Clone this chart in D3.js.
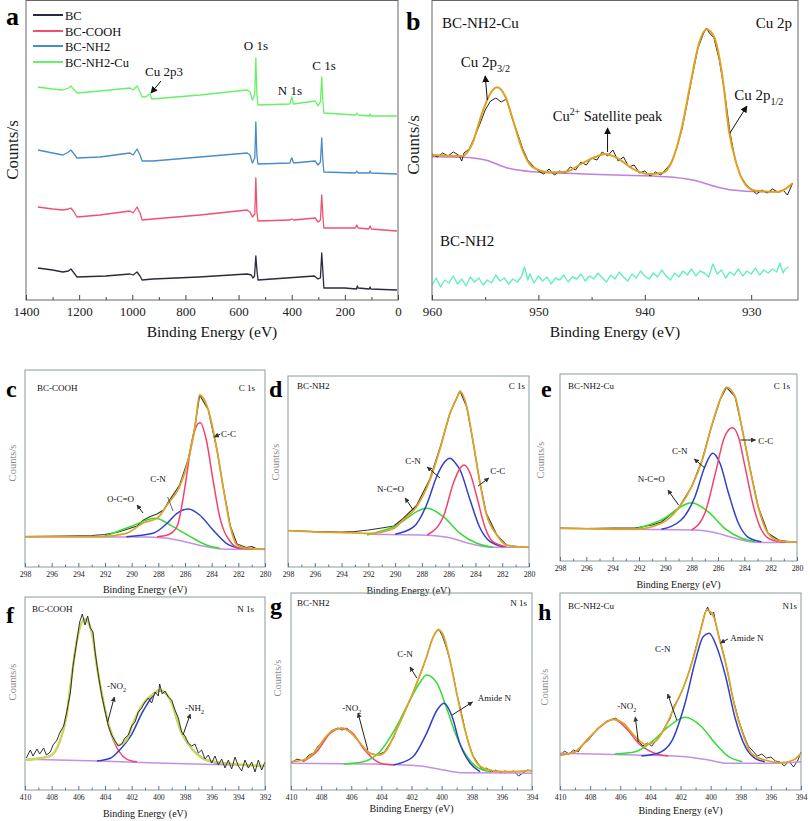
<!DOCTYPE html>
<html><head><meta charset="utf-8">
<script src="https://cdn.jsdelivr.net/npm/d3@7"></script>
<style>html,body{margin:0;padding:0;background:#fff;} svg text{font-family:"Liberation Serif","DejaVu Serif",serif;}</style>
</head><body>
<script>
// ===================== DATA =====================
// Panel a: XPS survey spectra  [binding energy (eV), intensity (a.u.)]
const surveyLegend = ["BC", "BC-COOH", "BC-NH2", "BC-NH2-Cu"];
const surveyBC = [[1355,32],[1300,30],[1261,28],[1240,29],[1231,31],[1222,28],[1208,23],[1100,24],[1009,26],[997,25],[982,28],[971,24],[963,20],[922,21],[750,23],[568,26],[552,25],[546,22],[540,24],[535,44],[531,30],[527,20],[420,22],[315,24],[301,21],[292,22],[287,47],[283,30],[279,12],[200,12],[156,11],[153,14],[150,12],[108,11],[105,13],[102,11],[4,10]];
const surveyCOOH = [[1355,93],[1300,91],[1261,90],[1240,91],[1231,92],[1222,89],[1208,83],[1122,85],[1009,89],[997,87],[982,93],[971,87],[963,80],[922,81],[745,85],[568,90],[557,88],[548,83],[539,86],[535,122],[531,88],[527,79],[407,80],[400,81],[392,80],[312,82],[301,78],[292,80],[287,105],[283,85],[279,72],[160,72],[155,75],[150,72],[110,71],[105,74],[100,71],[4,69]];
const surveyNH2 = [[1355,150],[1300,147],[1261,145],[1240,148],[1231,150],[1222,147],[1208,142],[1122,143],[1009,147],[997,145],[982,151],[971,145],[963,139],[922,139],[745,143],[568,147],[557,145],[548,137],[539,142],[535,178],[531,145],[527,136],[407,137],[402,141],[399,142],[395,138],[392,137],[312,139],[301,135],[292,138],[287,162],[283,140],[279,128],[160,127],[155,129],[150,127],[108,127],[105,129],[102,127],[4,126]];
const surveyNH2Cu = [[1355,213],[1300,211],[1261,210],[1240,212],[1231,214],[1222,211],[1208,207],[1122,209],[1009,212],[997,210],[982,214],[971,208],[963,203],[950,203],[940,205],[933,206],[927,201],[745,205],[568,210],[557,208],[548,200],[539,206],[535,242],[531,205],[527,195],[407,196],[402,201],[399,203],[395,197],[392,196],[312,199],[301,194],[292,198],[287,223],[283,200],[279,187],[160,185],[155,187],[150,185],[108,184],[105,186],[102,184],[4,184]];
const surveyTicks = [1400,1200,1000,800,600,400,200,0];
const surveyMinor = [1300,1100,900,700,500,300,100];

// Panel b: Cu 2p
const cu2pFit = [[960,145],[957.15,144],[956.2,156.7],[955.3,186.7],[954.5,206.7],[953.9,212.7],[953.1,203.3],[952.3,176.7],[951.5,150],[950.6,133.3],[949,127.7],[947.4,128.3],[945.9,136.7],[944.6,143.3],[943.7,146],[942.4,140.7],[941.2,131.7],[939.6,126],[938.3,127.3],[937.4,140],[936.5,173.3],[935.7,216.7],[934.9,256.7],[934.2,270.7],[933.5,263.3],[932.7,223.3],[932.1,170],[931.4,136.7],[930.5,115],[929.6,109.3],[927.4,108.3],[926.7,111.7],[926.1,116.7]];
const cu2pBase = [[960,143.3],[957.15,142.7],[955,140],[952.8,131.7],[950.6,128.3],[947.4,126.7],[942.7,125],[938,123.3],[935.5,120],[933.3,113.3],[931.8,110],[929.2,108.3],[927.2,108.3]];
const cu2pRaw = [[960,146],[959.5,143],[959,147],[958.5,144],[958,148],[957.5,145],[957.2,139],[957,147],[956.5,151],[956,163],[955.5,176],[955,190],[954.5,199],[954,202],[953.5,198],[953,201],[952.5,183],[952,168],[951.5,152],[951,140],[950.5,134],[950,129],[949.5,126],[949,131],[948.5,125],[948,129],[947.5,127],[947,133],[946.5,130],[946,138],[945.5,135],[945,142],[944.5,140],[944,148],[943.5,144],[943,150],[942.5,139],[942,143],[941.5,133],[941,135],[940.5,127],[940,129],[939.5,124],[939,128],[938.5,125],[938,131],[937.5,137],[937,152],[936.5,171],[936,198],[935.5,226],[935,252],[934.5,266],[934.2,272],[934,268],[933.5,262],[933,240],[932.5,208],[932,168],[931.5,140],[931,124],[930.5,116],[930,111],[929.5,106],[929,110],[928.5,107],[928,111],[927.5,108],[927,110],[926.6,105],[926.3,112],[926.1,117]];
const nh2Cu2p = [[960,15],[959.6,22],[959.2,13],[958.8,20],[958.4,17],[958,24],[957.6,16],[957.2,21],[956.8,14],[956.4,23],[956,18],[955.6,22],[955.2,15],[954.8,20],[954.4,17],[954,25],[953.6,19],[953.2,22],[952.8,16],[952.4,21],[952,18],[951.6,23],[951.3,33],[951,20],[950.8,26],[950.4,17],[950,24],[949.6,19],[949.2,23],[948.8,16],[948.4,22],[948,20],[947.6,25],[947.2,18],[946.8,23],[946.4,21],[946,26],[945.6,19],[945.2,24],[944.8,21],[944.4,27],[944,22],[943.6,18],[943.2,25],[942.8,21],[942.4,28],[942,23],[941.6,19],[941.2,26],[940.8,22],[940.4,29],[940,24],[939.6,21],[939.2,27],[938.8,23],[938.4,30],[938,24],[937.6,20],[937.2,27],[936.8,23],[936.4,29],[936,25],[935.6,31],[935.2,24],[934.8,29],[934.4,27],[934,23],[933.6,36],[933.2,26],[932.8,30],[932.4,22],[932,28],[931.6,25],[931.2,31],[930.8,24],[930.4,29],[930,26],[929.6,32],[929.2,25],[928.8,30],[928.4,27],[928,31],[927.6,28],[927.3,37],[927,27],[926.8,31],[926.5,33]];
const cu2pTicks = [960,950,940,930];
const cu2pMinor = [955,945,935];

// Panels c-e: C 1s
const c1sTicks = [298,296,294,292,290,288,286,284,282,280];
const c1sMinor = [297,295,293,291,289,287,285,283,281];
const cEnv = [[298,30.3],[295,30.3],[292.4,30.3],[290.4,33.7],[289.1,44.3],[288.1,48.7],[287.25,63.7],[286.4,80.3],[285.75,107],[285.25,140.3],[284.9,172],[284.25,157],[283.6,117],[283.1,77],[282.6,40.3],[282.1,22],[281.4,18.7],[280,17.7]];
const cCC = [[288.1,30.3],[287.3,32],[286.6,40.3],[286.25,60.3],[286.0,80.3],[285.5,123.7],[285.0,143.7],[284.85,144.3],[284.4,127],[283.9,87],[283.4,50.3],[282.6,25.3],[281.9,18.7],[280.9,17.7]];
const cCN = [[290.4,30.3],[288.4,33.7],[287.4,43],[286.6,53.7],[285.75,58],[284.9,52],[283.9,37],[282.9,23.7],[281.9,18.7]];
const cOCO = [[292.1,30.3],[290.1,40.3],[288.25,48.7],[286.9,40.3],[285.6,30.3],[284.4,22],[283.4,18.7]];
const cBase = [[298,30],[289.1,30],[287.5,29],[286,25.3],[284.4,20.3],[283,17.7],[280,17.7]];
const cRaw = [[298,30.3],[295,30.8],[293,31.5],[292,32.5],[291,35],[290.4,37.5],[289.6,41],[289.1,47],[288.6,50.5],[288.1,53],[287.6,57],[287.25,65],[286.9,72],[286.4,82],[285.75,108],[285.25,141],[284.9,172],[284.25,157],[283.6,117],[283.1,77],[282.6,41],[282.1,23],[281.4,19.5],[281,20.5],[280.6,18],[280,18]];

const dEnv = [[298,36.3],[296,35],[294,34.5],[291.9,33.7],[290.1,38.7],[289.4,47],[288.4,60.3],[287.4,87],[286.6,120.3],[285.9,153.7],[285.4,168.7],[285.15,175.3],[284.65,160.3],[284.2,127],[283.7,87],[283.2,53.7],[282.4,32],[281.7,22],[280.9,20.3],[280,19.7]];
const dCN = [[290,32.7],[288.6,40.3],[287.6,63.7],[286.9,90.3],[286.3,105],[285.9,108.7],[285.5,104],[285.15,97],[284.4,67],[283.7,40.3],[282.9,25.3],[281.9,20.3]];
const dCC = [[287.6,32],[286.4,50.3],[285.65,83.7],[285.15,98.7],[284.85,102],[284.4,93.7],[283.9,70.3],[283.3,40.3],[282.7,25.3],[281.7,20.3]];
const dNCO = [[292.1,32],[290.1,40.3],[287.6,58.7],[286.4,50.3],[285.15,33.7],[283.9,23.7],[282.7,19.7]];
const dBase = [[292.1,32.7],[288.1,32],[286.1,29.7],[284.65,24.3],[283.2,20.3],[281.9,19.7],[280,19.7]];
const dRaw = [[298,36.5],[296,35.3],[294,35],[293,35.5],[292,37],[291,39],[290.1,41],[289.4,48.5],[288.4,61.5],[287.4,88],[286.6,121],[285.9,154],[285.4,169],[285.15,176],[284.65,160],[284.2,127],[283.7,87],[283.2,54],[282.4,32],[281.7,22],[280.9,20.5],[280,19.5]];

const eEnv = [[298,32.7],[295,32],[292.3,31.7],[290.3,37.7],[289,52.7],[288,74.3],[287.2,101],[286.5,134.3],[285.85,161],[285.35,173.7],[284.7,164.3],[284.2,134.3],[283.6,94.3],[282.95,54.3],[282.2,27.7],[281.4,20.3],[280,18.7]];
const eCC = [[288,31],[287,47.7],[286.2,87.7],[285.5,124.3],[284.9,133.3],[284.45,124.3],[283.95,94.3],[283.3,54.3],[282.7,31],[281.9,21],[280.9,18.7]];
const eCN = [[290.3,31.7],[288.8,41],[287.75,64.3],[287,94.3],[286.4,107.7],[285.85,97.7],[285.2,67.7],[284.45,37.7],[283.7,23.7],[282.7,19.3]];
const eNCO = [[292.3,31.7],[290.3,41],[288,58.3],[286.75,49.3],[285.5,32.7],[284.2,22.7],[283.2,19.3]];
const eBase = [[292.3,31.7],[287.8,31],[286.2,28.3],[284.7,22.7],[283.2,18.7],[281.7,18.5],[280,18.7]];
const eRaw = [[298,33],[296,32.5],[294,32.8],[292.3,33],[291,36],[290.3,39],[289,53],[288,74.3],[287.2,101],[286.5,134.3],[285.85,161],[285.35,173.7],[284.7,164.3],[284.2,134.3],[283.6,94.3],[282.95,54.3],[282.2,27.7],[281.4,21],[280.7,19.5],[280,18.7]];

// Panels f-h: N 1s
const n1sTicksF = [410,408,406,404,402,400,398,396,394,392];
const n1sMinorF = [409,407,405,403,401,399,397,395,393];
const n1sTicksGH = [410,408,406,404,402,400,398,396,394];
const n1sMinorGH = [409,407,405,403,401,399,397,395];

const fEnv = [[409.9,30],[408.8,32],[408.1,34],[407.4,48.3],[406.9,73.3],[406.5,113.3],[406.1,150],[405.5,170.7],[405,158.3],[404.6,123.3],[404.1,86.7],[403.6,60],[403,45],[402.4,50],[401.9,66.7],[401.1,86.7],[400.3,97],[399.9,100],[399.1,90],[398.25,56.7],[397.4,40],[396.4,30],[394.4,26],[392,24]];
const fNO2 = [[409.9,30],[408.8,32],[408.1,34],[407.4,48.3],[406.9,73.3],[406.5,113.3],[406.1,150],[405.5,170.7],[405,158.3],[404.6,123.3],[404.1,86.7],[403.6,58],[403.1,42],[402.6,33],[402,29],[401.6,28.3]];
const fNH2 = [[404.6,29],[403.6,31.7],[402.9,40],[402.1,53.3],[401.1,80],[399.9,99.3],[399.1,90],[398.25,56.7],[397.4,40],[396.4,30],[395.4,26.7]];
const fBase = [[409.9,30.7],[404.4,29],[399.4,26.7],[394.4,25],[392,24.3]];
const fRaw = [[409.9,32],[409.6,40],[409.4,34],[409.1,41],[408.9,36],[408.6,42],[408.4,35],[408.1,38],[407.9,45],[407.6,50],[407.4,57],[407.1,64],[406.9,76],[406.6,97],[406.4,124],[406.1,150],[405.9,168],[405.7,176],[405.5,165],[405.3,174],[405.1,162],[404.9,158],[404.75,139],[404.5,115],[404.25,95],[404,79],[403.75,64],[403.5,55],[403.25,49],[403,44],[402.75,46],[402.5,52],[402.25,55],[402,64],[401.75,68],[401.5,78],[401.25,82],[401,88],[400.75,92],[400.5,87],[400.25,98],[400,94],[399.9,106],[399.7,96],[399.5,99],[399.25,93],[399,90],[398.75,80],[398.5,72],[398.25,58],[398,54],[397.75,47],[397.5,44],[397.25,46],[397,37],[396.75,40],[396.5,31],[396.25,35],[396,27],[395.75,34],[395.5,25],[395.25,31],[395,22],[394.75,30],[394.5,21],[394.25,33],[394,24],[393.75,19],[393.5,30],[393.25,22],[393,28],[392.75,18],[392.5,30],[392.25,20],[392,28]];

const gEnv = [[410,28.3],[409.2,30],[408.5,36.7],[407.85,50],[407.2,60],[406.6,61.7],[406.1,58.3],[405.4,46.7],[404.75,36.7],[404.1,35],[403.65,40],[403,60],[402.3,83.3],[401.65,106.7],[401,133.3],[400.55,153.3],[400.2,160],[399.9,155],[399.45,130],[399,96.7],[398.45,60],[397.9,33.3],[397.2,21.7],[395.9,18.3],[394,19.3]];
const gNO2 = [[409.2,28.3],[408.3,38.3],[407.4,56.7],[406.6,61.7],[405.9,56.7],[405.2,41.7],[404.5,30.7],[403.9,26],[403.2,25]];
const gCN = [[406.5,26],[405.2,28.3],[404.1,38.3],[403,63.3],[402.1,90],[401.4,108.3],[401,115],[400.3,106.7],[399.7,83.3],[399,53.3],[398.3,33.3],[397.7,23.3],[396.8,18.3]];
const gAmide = [[403.2,25],[401.9,33.3],[401,56.7],[400.3,80],[399.85,86.7],[399.3,73.3],[398.8,46.7],[398.1,26.7],[397.45,18.3]];
const gBase = [[410,26.7],[404.75,26],[401.4,24],[399.9,20],[398.6,17.3],[394,16.7]];
const gRaw = [[410,27],[409.6,31],[409.2,29],[408.8,35],[408.5,37],[408.2,44],[407.85,49],[407.5,56],[407.2,60],[406.9,62],[406.6,60],[406.3,62],[406,57],[405.7,52],[405.4,47],[405.1,41],[404.75,37],[404.4,35],[404.1,36],[403.8,38],[403.5,45],[403.2,52],[403,60],[402.6,73],[402.3,83],[402,93],[401.65,107],[401.3,120],[401,133],[400.7,148],[400.4,158],[400.2,161],[399.95,154],[399.7,143],[399.45,130],[399.2,113],[399,97],[398.7,78],[398.45,61],[398.2,46],[397.9,34],[397.6,27],[397.3,20],[397,22],[396.7,18],[396.4,20],[396.1,17],[395.8,19],[395.5,18],[395.2,19],[394.9,14],[394.6,17],[394.3,20],[394,19]];

const hEnv = [[410,35],[409,38.3],[408.1,51.7],[407.2,65],[406.45,70.7],[405.8,66.7],[405,53.3],[404.35,45.7],[403.7,48.3],[403,63.3],[402.4,83.3],[401.7,106.7],[401,140],[400.6,163.3],[400.25,180],[399.8,173.3],[399.4,150],[398.9,120],[398.4,83.3],[397.8,53.3],[397.3,36.7],[396.4,30],[395.3,27.3],[394.5,30],[394,36.7]];
const hNO2 = [[410,35],[409,38.3],[408.1,51.7],[407.2,65],[406.45,70.7],[405.5,60],[404.8,46.7],[404.1,39.3],[403.5,35.7],[402.8,34]];
const hCN = [[406.35,36],[405,38.3],[403.9,48.3],[402.8,63.3],[401.7,72.7],[400.6,63.3],[399.7,46.7],[398.8,33.3],[397.9,28.3]];
const hAmide = [[404.6,34],[403.5,36.7],[402.6,48.3],[401.7,86.7],[401,130],[400.5,153.3],[400.1,156.7],[399.6,143.3],[399,113.3],[398.4,73.3],[397.7,43.3],[397.05,31.7],[396.4,28.3]];
const hBase = [[410,36.7],[405,35],[401.7,33.3],[400.15,30],[398.8,26.7],[396.1,26.7],[394,28.3]];
const hRaw = [[410,34],[409.7,39],[409.4,36],[409.1,40],[408.8,38],[408.5,45],[408.1,50],[407.8,56],[407.5,62],[407.2,64],[406.9,69],[406.6,70],[406.3,72],[406,67],[405.7,66],[405.4,59],[405.1,55],[404.8,49],[404.5,44],[404.2,47],[403.9,44],[403.6,50],[403.3,56],[403,64],[402.7,71],[402.4,85],[402.1,92],[401.8,103],[401.5,115],[401.2,130],[400.9,147],[400.6,164],[400.4,176],[400.2,183],[400,175],[399.8,178],[399.6,162],[399.4,151],[399.1,134],[398.9,120],[398.6,97],[398.4,85],[398.1,68],[397.8,55],[397.5,44],[397.2,39],[396.9,34],[396.6,36],[396.3,32],[396,33],[395.7,29],[395.4,28],[395.1,24],[394.8,29],[394.5,23],[394.2,30],[394,38]];

// ===================== DRAWING =====================
const FONT = "Liberation Serif, DejaVu Serif, serif";
const COL = {env:"#dba52a", red:"#f5426c", blue:"#3040c8", green:"#33dd33", base:"#c490e4", raw:"#333333", fenv:"#c9d75a", teal:"#66eebb"};

const svg = d3.select("body").append("svg").attr("width",810).attr("height",821)
  .style("display","block").style("background","#fff");

const defs = svg.append("defs");
function marker(id, size, color){
  defs.append("marker").attr("id",id).attr("viewBox","0 0 10 10").attr("refX",9).attr("refY",5)
    .attr("markerWidth",size).attr("markerHeight",size).attr("markerUnits","userSpaceOnUse")
    .attr("orient","auto").append("path").attr("d","M0,0 L10,5 L0,10 z").attr("fill",color);
}
marker("ahBig", 7, "#111");
marker("ahSmall", 5, "#333");

function addText(g, x, y, parts, size, opts){
  opts = opts || {};
  const t = g.append("text").attr("x",x).attr("y",y).style("font-family",FONT)
    .attr("font-size",size).attr("fill",opts.fill||"#111").attr("text-anchor",opts.anchor||"start");
  if (opts.weight) t.attr("font-weight",opts.weight);
  if (opts.rotate) t.attr("transform",`rotate(${opts.rotate},${x},${y})`);
  if (typeof parts === "string") { t.text(parts); return t; }
  let shift = 0;
  parts.forEach(p => {
    const s = p[0], kind = p[1];
    const target = kind==="sub" ? size*0.3 : kind==="sup" ? -size*0.42 : 0;
    const ts = t.append("tspan").text(s).attr("dy", target-shift);
    shift = target;
    if (kind) ts.attr("font-size", size*0.68);
  });
  return t;
}

function drawPanel(p){
  const g = svg.append("g");
  const H = p.b - p.t;
  const x = d3.scaleLinear().domain(p.xDomain).range([p.l, p.r]);
  const y = d3.scaleLinear().domain([0, H]).range([p.b, p.t]);

  p.series.forEach(s => {
    const line = d3.line().x(d=>x(d[0])).y(d=>y(d[1])).curve(s.curve || d3.curveLinear);
    g.append("path").datum(s.data).attr("d",line).attr("fill","none")
      .attr("stroke",s.color).attr("stroke-width",s.width||1.2).attr("stroke-linejoin","round");
  });

  g.append("rect").attr("x",p.l).attr("y",p.t).attr("width",p.r-p.l).attr("height",H)
    .attr("fill","none").attr("stroke",p.frame).attr("stroke-width",p.frameW||1);

  const ax = g.append("g").attr("transform",`translate(0,${p.b})`)
    .call(d3.axisBottom(x).tickValues(p.ticks).tickSize(-p.tickLen).tickPadding(p.pad).tickFormat(d3.format("d")));
  ax.select(".domain").remove();
  ax.attr("font-family", null);
  ax.selectAll("line").attr("stroke",p.tickColor);
  ax.selectAll("text").style("font-family",FONT).attr("font-size",p.tickFont).attr("fill","#222");
  const mx = g.append("g").attr("transform",`translate(0,${p.b})`)
    .call(d3.axisBottom(x).tickValues(p.minor).tickSize(-p.tickLen*0.6).tickFormat(""));
  mx.select(".domain").remove();
  mx.selectAll("line").attr("stroke",p.tickColor);

  addText(g, (p.l+p.r)/2, p.xlabY, "Binding Energy (eV)", p.xlabSize, {anchor:"middle"});
  addText(g, p.ylabX, p.ylabY, "Counts/s", p.ylabSize, {anchor:"middle", rotate:-90, fill:p.ylabColor});
  addText(g, p.letter[1], p.letter[2], p.letter[0], p.letterSize, {weight:"bold", fill:"#000"});
  (p.labels||[]).forEach(L => addText(g, L.x, L.y, L.t, L.size, {anchor:L.anchor}));
  (p.notes||[]).forEach(n => addText(g, x(n.at[0]), y(n.at[1]), n.t, n.size, {anchor:n.anchor||"start"}));
  (p.arrows||[]).forEach(a => {
    const ln = g.append("line").attr("x1",x(a.from[0])).attr("y1",y(a.from[1]))
      .attr("x2",x(a.to[0])).attr("y2",y(a.to[1])).attr("stroke",a.color||"#222").attr("stroke-width",a.w||1);
    if (a.head !== false) ln.attr("marker-end",`url(#${a.marker||"ahSmall"})`);
  });
  return {x, y, g};
}

const smooth = d3.curveMonotoneX;

// ---- Panel a
const pa = drawPanel({
  l:26, r:398, t:0.5, b:300, xDomain:[1400,0],
  ticks:surveyTicks, minor:surveyMinor, tickLen:5, pad:7, tickFont:13, tickColor:"#444",
  frame:"#666", xlabY:337, xlabSize:15.5, ylabX:18, ylabY:150, ylabSize:17, ylabColor:"#222",
  letter:["a",6,25], letterSize:26,
  series:[
    {data:surveyBC, color:"#2a2a40", width:1.3},
    {data:surveyCOOH, color:"#f2506e", width:1.3},
    {data:surveyNH2, color:"#4a8cc7", width:1.3},
    {data:surveyNH2Cu, color:"#66f266", width:1.3}
  ],
  notes:[
    {t:"O 1s", at:[534.5,250], size:13, anchor:"middle"},
    {t:"C 1s", at:[278.6,230], size:13, anchor:"middle"},
    {t:"N 1s", at:[406.6,205], size:13, anchor:"middle"},
    {t:"Cu 2p3", at:[880.7,224], size:13, anchor:"middle"}
  ],
  arrows:[{from:[892,219], to:[929.6,207], marker:"ahBig", color:"#111"}]
});
const legColors = ["#2a2a40","#f2506e","#4a8cc7","#66f266"];
const legY = [15,31,46,62];
surveyLegend.forEach((name,i) => {
  pa.g.append("line").attr("x1",33).attr("x2",63).attr("y1",legY[i]).attr("y2",legY[i])
    .attr("stroke",legColors[i]).attr("stroke-width",2);
  addText(pa.g, 65, legY[i]+4.5, name, 12.5);
});

// ---- Panel b
drawPanel({
  l:432, r:798, t:0.5, b:300, xDomain:[960,925.6],
  ticks:cu2pTicks, minor:cu2pMinor, tickLen:5, pad:7, tickFont:13, tickColor:"#444",
  frame:"#666", xlabY:337, xlabSize:15.5, ylabX:419, ylabY:145, ylabSize:17, ylabColor:"#222",
  letter:["b",406,30], letterSize:26,
  series:[
    {data:nh2Cu2p, color:COL.teal, width:1.4},
    {data:cu2pBase, color:"#c080e0", width:1.6, curve:smooth},
    {data:cu2pRaw, color:"#222", width:1},
    {data:cu2pFit, color:"#e0a020", width:2, curve:smooth}
  ],
  labels:[
    {t:"BC-NH2-Cu", x:442, y:28, size:15},
    {t:"Cu 2p", x:792, y:28, size:15, anchor:"end"},
    {t:"BC-NH2", x:440, y:246, size:15}
  ],
  notes:[
    {t:[["Cu 2p"],["3/2","sub"]], at:[957.3,233], size:15},
    {t:[["Cu"],["2+","sup"],[" Satellite peak"]], at:[943.5,179], size:14.5, anchor:"middle"},
    {t:[["Cu 2p"],["1/2","sub"]], at:[931.6,200], size:15}
  ],
  arrows:[
    {from:[954.8,200], to:[955.0,224], marker:"ahBig", color:"#111"},
    {from:[943.5,148], to:[943.5,172], marker:"ahBig", color:"#111"},
    {from:[932.0,167], to:[930.4,194], marker:"ahBig", color:"#111"}
  ]
});

function small(o){
  return Object.assign({
    tickLen:4, pad:4, tickFont:7.8, tickColor:"#5a6fa8", frame:"#8a9a9a",
    xlabSize:10, ylabSize:10.5, ylabColor:"#8a8a8a", letterSize:24
  }, o);
}

// ---- Panel c
drawPanel(small({
  l:25, r:265, t:370, b:567, xDomain:[298,280], ticks:c1sTicks, minor:c1sMinor,
  xlabY:592.5, ylabX:16, ylabY:463, letter:["c",6,397],
  series:[
    {data:cRaw, color:COL.raw, width:1.2},
    {data:cBase, color:COL.base, width:1.5, curve:smooth},
    {data:cOCO, color:COL.green, width:1.5, curve:smooth},
    {data:cCN, color:COL.blue, width:1.5, curve:smooth},
    {data:cCC, color:COL.red, width:1.5, curve:smooth},
    {data:cEnv, color:COL.env, width:1.8, curve:smooth}
  ],
  labels:[{t:"BC-COOH", x:37, y:391, size:9},{t:"C 1s", x:255, y:391, size:9, anchor:"end"}],
  notes:[
    {t:"C-C", at:[283.3,130], size:9},
    {t:"C-N", at:[288.6,85], size:9},
    {t:"O-C=O", at:[291.85,65], size:9}
  ],
  arrows:[
    {from:[283.35,133], to:[283.8,130]},
    {from:[287.3,70], to:[286.9,56], head:false, color:"#666"},
    {from:[289.15,54], to:[289.6,62]}
  ]
}));

// ---- Panel d
drawPanel(small({
  l:288, r:529, t:376, b:567, xDomain:[298,280], ticks:c1sTicks, minor:c1sMinor,
  xlabY:593.5, ylabX:279, ylabY:462, letter:["d",269,397],
  series:[
    {data:dRaw, color:COL.raw, width:1.2},
    {data:dBase, color:COL.base, width:1.5, curve:smooth},
    {data:dNCO, color:COL.green, width:1.5, curve:smooth},
    {data:dCN, color:COL.blue, width:1.5, curve:smooth},
    {data:dCC, color:COL.red, width:1.5, curve:smooth},
    {data:dEnv, color:COL.env, width:1.8, curve:smooth}
  ],
  labels:[{t:"BC-NH2", x:297, y:389, size:9},{t:"C 1s", x:525, y:389, size:9, anchor:"end"}],
  notes:[
    {t:"C-N", at:[289.25,103], size:9},
    {t:"C-C", at:[282.9,93], size:9},
    {t:"N-C=O", at:[291.35,75], size:9}
  ],
  arrows:[
    {from:[286.65,89], to:[287.6,100]},
    {from:[283.8,81], to:[283.0,89]},
    {from:[288.65,57], to:[289.25,69]}
  ]
}));

// ---- Panel e
drawPanel(small({
  l:560, r:797, t:374, b:561, xDomain:[298,280], ticks:c1sTicks, minor:c1sMinor,
  xlabY:587.5, ylabX:544, ylabY:460, letter:["e",541,397],
  series:[
    {data:eRaw, color:COL.raw, width:1.2},
    {data:eBase, color:COL.base, width:1.5, curve:smooth},
    {data:eNCO, color:COL.green, width:1.5, curve:smooth},
    {data:eCN, color:COL.blue, width:1.5, curve:smooth},
    {data:eCC, color:COL.red, width:1.5, curve:smooth},
    {data:eEnv, color:COL.env, width:1.8, curve:smooth}
  ],
  labels:[{t:"BC-NH2-Cu", x:568, y:389, size:9},{t:"C 1s", x:790, y:389, size:9, anchor:"end"}],
  notes:[
    {t:"C-C", at:[282.95,117], size:9},
    {t:"C-N", at:[289.5,107], size:9},
    {t:"N-C=O", at:[292.1,79], size:9}
  ],
  arrows:[
    {from:[284.3,121], to:[283.15,121]},
    {from:[287.0,93], to:[287.8,102]},
    {from:[289.0,56], to:[289.8,71]}
  ]
}));

// ---- Panel f
drawPanel(small({
  l:25, r:265, t:597, b:790, xDomain:[410,392], ticks:n1sTicksF, minor:n1sMinorF,
  xlabY:816.5, ylabX:16, ylabY:682, letter:["f",6,623],
  series:[
    {data:fBase, color:COL.base, width:1.5, curve:smooth},
    {data:fNO2, color:COL.red, width:1.5, curve:smooth},
    {data:fNH2, color:COL.blue, width:1.5, curve:smooth},
    {data:fEnv, color:COL.fenv, width:2.4, curve:smooth},
    {data:fRaw, color:COL.raw, width:1}
  ],
  labels:[{t:"BC-COOH", x:32, y:612, size:9},{t:"N 1s", x:254, y:612, size:9, anchor:"end"}],
  notes:[
    {t:[["-NO"],["2","sub"]], at:[403.85,101], size:9},
    {t:[["-NH"],["2","sub"]], at:[398.0,79], size:9}
  ],
  arrows:[
    {from:[403.8,68], to:[403.3,93]},
    {from:[398.15,55], to:[397.6,76]}
  ]
}));

// ---- Panel g
drawPanel(small({
  l:291, r:532, t:593, b:790, xDomain:[410,394], ticks:n1sTicksGH, minor:n1sMinorGH,
  xlabY:811.5, ylabX:281, ylabY:678, letter:["g",270,614],
  series:[
    {data:gRaw, color:COL.raw, width:1},
    {data:gBase, color:COL.base, width:1.5, curve:smooth},
    {data:gNO2, color:COL.red, width:1.5, curve:smooth},
    {data:gCN, color:COL.green, width:1.5, curve:smooth},
    {data:gAmide, color:COL.blue, width:1.5, curve:smooth},
    {data:gEnv, color:COL.env, width:1.8, curve:smooth}
  ],
  labels:[{t:"BC-NH2", x:297, y:606, size:9},{t:"N 1s", x:527, y:606, size:9, anchor:"end"}],
  notes:[
    {t:"C-N", at:[402.95,133], size:9},
    {t:[["-NO"],["2","sub"]], at:[406.6,79], size:9},
    {t:"Amide N", at:[397.6,89], size:9}
  ],
  arrows:[
    {from:[401.65,112], to:[402.1,123]},
    {from:[404.9,40], to:[405.55,77]},
    {from:[399.3,75], to:[397.95,88]}
  ]
}));

// ---- Panel h
drawPanel(small({
  l:560, r:801, t:593, b:790, xDomain:[410,394], ticks:n1sTicksGH, minor:n1sMinorGH,
  xlabY:813.5, ylabX:548, ylabY:687, letter:["h",538,620],
  series:[
    {data:hRaw, color:COL.raw, width:1},
    {data:hBase, color:COL.base, width:1.5, curve:smooth},
    {data:hNO2, color:COL.red, width:1.5, curve:smooth},
    {data:hCN, color:COL.green, width:1.5, curve:smooth},
    {data:hAmide, color:COL.blue, width:1.5, curve:smooth},
    {data:hEnv, color:COL.env, width:1.8, curve:smooth}
  ],
  labels:[{t:"BC-NH2-Cu", x:568, y:609, size:9},{t:"N1s", x:797, y:609, size:9, anchor:"end"}],
  notes:[
    {t:"Amide N", at:[398.7,149], size:9},
    {t:"C-N", at:[403.7,138], size:9},
    {t:[["-NO"],["2","sub"]], at:[406.2,81], size:9}
  ],
  arrows:[
    {from:[398.85,151], to:[399.35,147]},
    {from:[402.25,70], to:[402.85,96]},
    {from:[404.8,48], to:[405.0,73]}
  ]
}));
</script>
</body></html>
